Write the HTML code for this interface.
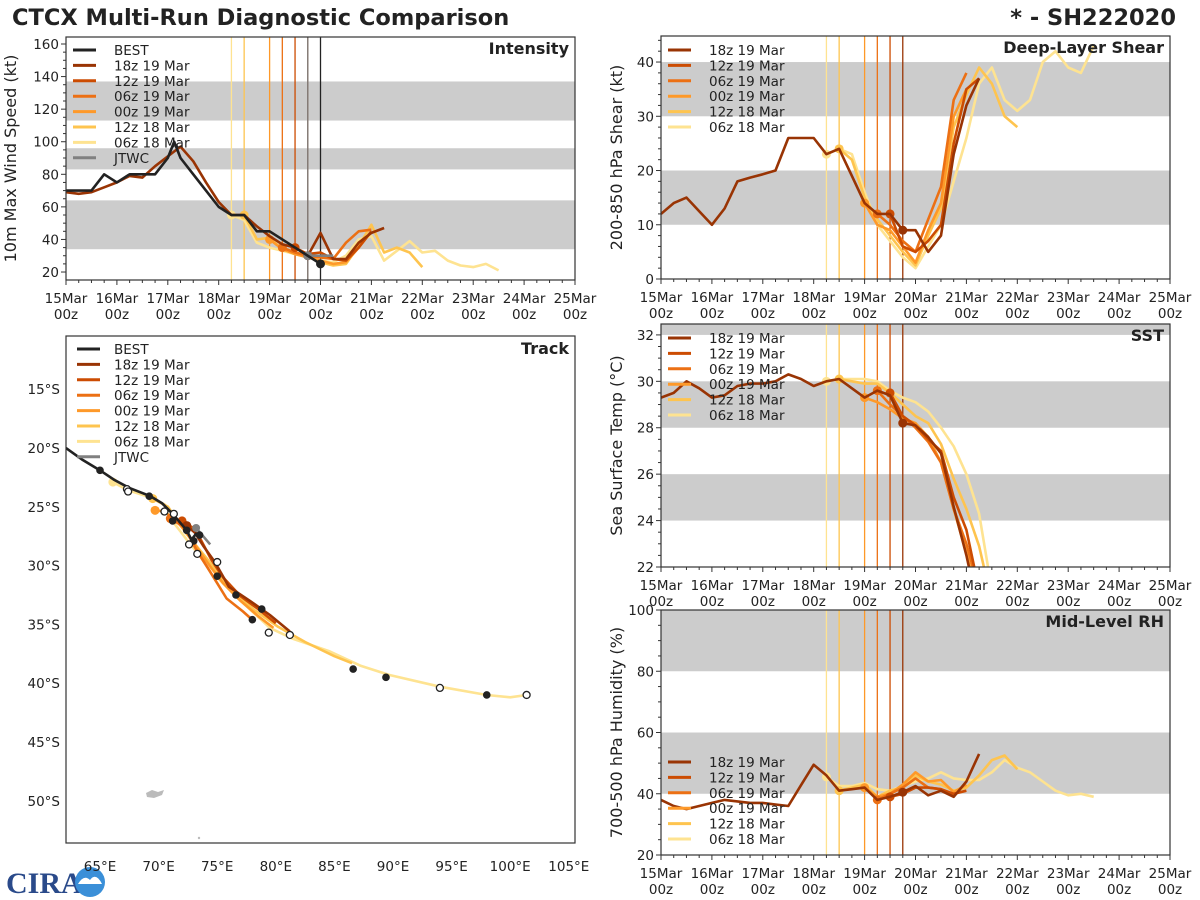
<!DOCTYPE html>
<html><head><meta charset="utf-8"><style>
html,body{margin:0;padding:0;background:#fff;}
svg{display:block;font-family:"DejaVu Sans","Liberation Sans",sans-serif;}
</style></head><body>
<svg id="chart" width="1200" height="900" viewBox="0 0 1200 900" xmlns="http://www.w3.org/2000/svg">
<rect width="1200" height="900" fill="#fff"/>
<text x="12" y="25" font-size="22.5" font-weight="bold" fill="#222">CTCX Multi-Run Diagnostic Comparison</text>
<text x="1176" y="25" font-size="22.5" font-weight="bold" fill="#222" text-anchor="end">* - SH222020</text>
<g>
<text x="6" y="893" font-size="30" font-weight="bold" fill="#2a4a8a" font-family="Liberation Serif, serif">CIRA</text>
<circle cx="90" cy="882" r="15" fill="#3a8fd8"/>
<path d="M78 884 Q84 874 90 880 Q96 872 102 884 Z" fill="#fff"/>
</g>
</svg>
<script>
// ---------- DATA ----------
const runNames = ["18z 19 Mar","12z 19 Mar","06z 19 Mar","00z 19 Mar","12z 18 Mar","06z 18 Mar"];
const runInit = [19.75,19.5,19.25,19.0,18.5,18.25];
const runColors = ["#993404","#cc4c02","#ec7014","#fe9929","#fec44f","#fee391"];
const intStart = [15.0,19.5,19.25,19.0,18.5,18.25];
const int18z19 = [69,68,69,72,75,79,78,85,91,97,88,75,63,55,55,48,42,37,35,30,44,28,28,38,44,47];
const int12z19 = [35,31,32,28,27,35,45];
const int06z19 = [35,32,30,29,28,38,45,46];
const int00z19 = [40,34,31,29,27,25,26,35,45];
const int12z18 = [55,40,41,34,32,30,26,24,25,36,49,32,35,32,23];
const int06z18 = [55,52,38,35,33,31,29,27,26,30,40,42,27,33,39,32,33,27,24,23,25,21];
const bestT = [15.0,15.25,15.5,15.75,16.0,16.25,16.5,16.75,17.0,17.125,17.25,17.5,17.75,18.0,18.25,18.5,18.75,19.0,19.25,19.5,19.75,20.0];
const bestV = [70,70,70,80,75,80,80,80,90,100,90,80,70,60,55,55,45,45,40,35,30,25];
const jtwcT = [19.75,20.0,20.25];
const jtwcV = [30,30,30];

const shrStart = [15.0,19.5,19.25,19.0,18.5,18.25];
const shr18z19 = [12,14,15,12.5,10,13,18,18.7,19.3,20,26,26,26,23,24,19,14,12,12,9,9,5,8,23,32,37];
const shr12z19 = [12,6,5,7,10,25,35,37];
const shr06z19 = [12,10,7,5,11,17,33,38];
const shr00z19 = [14,10,9,6,3,9,14,30,35];
const shr12z18 = [24,22,15,11,8,5,2.5,8,13,28,34,39,36,30,28];
const shr06z18 = [23,24,23,16,10,7,4,2,6,10,18,26,36,39,33,31,33,40,42,39,38,43];

const sstStart = [15.0,19.5,19.25,19.0,18.5,18.25];
const sst18z19 = [29.3,29.5,30.0,29.7,29.3,29.4,29.8,29.9,29.9,30.0,30.3,30.1,29.8,30.0,30.1,29.7,29.3,29.6,29.4,28.2,28.1,27.6,26.9,24.6,22.5,20];
const sst12z19 = [29.5,28.5,28.1,27.5,27.0,25.0,23.6,21];
const sst06z19 = [29.6,29.0,28.5,28.0,27.4,26.5,24.5,23.0,21];
const sst00z19 = [29.3,29.1,28.8,28.4,28.2,27.6,26.5,24.5,22.6,20.5];
const sst12z18 = [30.1,30.0,29.9,29.9,29.5,29.0,28.5,28.2,27.3,25.8,24.5,22.9,20.5];
const sst06z18 = [30.0,30.1,30.1,30.1,30.0,29.6,29.3,29.1,28.7,28.0,27.2,26.0,24.3,21];

const rhStart = [15.0,19.5,19.25,19.0,18.5,18.25];
const rh18z19 = [38,36,35,36,37,38,37.5,37,37,36.5,36,42.8,49.5,46,41,41.5,42,38,39,40.5,42.5,39.5,41,39,44,53];
const rh12z19 = [39,40,42,42,41.5,40,41];
const rh06z19 = [38,40,42,45,42,41.5,39.5];
const rh00z19 = [42,39,40,43,47,44,44.5,40.5,43];
const rh12z18 = [41,42,43,39,41,42,46,44,43,41,42,46,51,52.5,48];
const rh06z18 = [45.5,42.5,42.5,43.5,41.5,41,42.5,44,45,47,45,44.5,44.5,47,51,48.5,47,44,41,39.5,40,39];

const trkBestLon = [62.1,63.5,65.0,66.2,67.5,69.3,70.3,71.2,71.8,72.4,72.8,73.2,73.7];
const trkBestLat = [20.0,21.0,21.9,22.7,23.4,24.1,24.7,25.6,26.3,27.0,27.8,27.3,27.6];
const trk18z19Lon = [72.4,73.1,73.8,74.8,76.0,77.8,79.5,81.2];
const trk18z19Lat = [26.6,27.2,28.3,29.7,31.8,33.0,34.2,35.6];
const trk12z19Lon = [72.0,72.8,73.6,74.5,75.5,77.0,78.5,80.0];
const trk12z19Lat = [26.2,26.7,27.8,29.5,31.0,32.6,33.7,34.9];
const trk06z19Lon = [71.0,72.0,72.6,73.3,74.2,75.0,75.8,77.2,78.2];
const trk06z19Lat = [26.0,26.6,27.5,28.8,30.2,31.5,32.8,33.9,34.8];
const trk00z19Lon = [69.7,70.5,71.5,72.5,73.5,74.5,75.5,77.0,78.5,79.8];
const trk00z19Lat = [25.3,25.4,26.2,27.3,28.8,30.2,31.5,33.0,34.3,35.3];
const trk12z18Lon = [69.5,70.8,71.5,72.3,73.2,74.2,75.3,76.6,78.2,80.2,82.5,85.0,86.5];
const trk12z18Lat = [24.3,25.0,26.0,27.2,28.3,29.5,31.0,32.4,33.8,35.2,36.5,37.7,38.3];
const trk06z18Lon = [66.1,67.4,69.3,70.5,71.0,71.4,72.1,72.7,73.5,74.4,75.2,76.5,78.0,79.5,81.4,84.6,87.2,89.7,94.0,98.0,100.0,101.4];
const trk06z18Lat = [22.9,23.6,24.2,24.8,25.4,26.5,27.4,28.2,29.1,29.9,31.2,32.5,33.9,35.3,36.2,37.3,38.5,39.3,40.3,41.0,41.2,41.0];
const trkJtwcLon = [73.2,74.4];
const trkJtwcLat = [26.8,28.2];
const fixFilledLon = [65.0,69.2,71.2,72.4,73.0,73.5,75.0,76.6,78.0,78.8,86.6,89.4,98.0];
const fixFilledLat = [21.9,24.1,26.2,27.0,27.9,27.4,30.9,32.5,34.6,33.7,38.8,39.5,41.0];
const fixOpenLon = [67.3,67.4,70.5,71.3,72.6,73.3,75.0,79.4,81.2,94.0,101.4];
const fixOpenLat = [23.5,23.7,25.4,25.6,28.2,29.0,29.7,35.7,35.9,40.4,41.0];
const dayTicks = [15,16,17,18,19,20,21,22,23,24,25];
const lonTicks = [65,70,75,80,85,90,95,100,105];
const latTicks = [15,20,25,30,35,40,45,50];

const NS="http://www.w3.org/2000/svg";
const svg=document.getElementById('chart');
function mk(tag,attrs,parent){const e=document.createElementNS(NS,tag);for(const k in attrs)e.setAttribute(k,attrs[k]);(parent||svg).appendChild(e);return e;}
let clipId=0;

function timePanel(p){
  const g=mk('g',{});
  
  
  const xs=t=>p.x0+(t-15)/10*(p.x1-p.x0);
  const ys=v=>p.y1-(v-p.ymin)/(p.ymax-p.ymin)*(p.y1-p.y0);
  const cid='c'+(clipId++);
  const cp=mk('clipPath',{id:cid},g);mk('rect',{x:p.x0,y:p.y0,width:p.x1-p.x0,height:p.y1-p.y0},cp);
  const inner=mk('g',{'clip-path':'url(#'+cid+')'},g);
  p.bands.forEach(b=>{const r=mk('rect',{x:p.x0,y:ys(b[1]),width:p.x1-p.x0,height:ys(b[0])-ys(b[1]),fill:'#cccccc'},inner);
    });
  runInit.forEach((t,i)=>{const l=mk('line',{x1:xs(t),x2:xs(t),y1:p.y0,y2:p.y1,stroke:runColors[i],'stroke-width':1.3},inner);
    });
  if(p.extraV){p.extraV.forEach(v=>{mk('line',{x1:xs(v[0]),x2:xs(v[0]),y1:p.y0,y2:p.y1,stroke:v[1],'stroke-width':1.3},inner);});}
  for(let i=p.series.length-1;i>=0;i--){
    const s=p.series[i],st=p.starts[i];
    const pts=s.map((v,k)=>xs(st+k*0.25).toFixed(1)+','+ys(v).toFixed(1)).join(' ');
    const pl=mk('polyline',{points:pts,fill:'none',stroke:runColors[i],'stroke-width':2.6,'stroke-linejoin':'round'},inner);
    
    
    const k=Math.round((runInit[i]-st)/0.25);
    if(s[k]!==undefined){const c=mk('circle',{cx:xs(runInit[i]),cy:ys(s[k]),r:4.5,fill:runColors[i]},inner);
      }
  }
  if(p.best){
    const j=mk('polyline',{points:jtwcT.map((t,k)=>xs(t)+','+ys(jtwcV[k])).join(' '),fill:'none',stroke:'#808080','stroke-width':2.6},inner);
    
    mk('circle',{cx:xs(jtwcT[0]),cy:ys(jtwcV[0]),r:4.5,fill:'#808080'},inner);
    const b=mk('polyline',{points:bestT.map((t,k)=>xs(t)+','+ys(bestV[k])).join(' '),fill:'none',stroke:'#222','stroke-width':2.6,'stroke-linejoin':'round'},inner);
    
    mk('circle',{cx:xs(bestT[bestT.length-1]),cy:ys(bestV[bestV.length-1]),r:4.5,fill:'#222'},inner);
  }
  mk('rect',{x:p.x0,y:p.y0,width:p.x1-p.x0,height:p.y1-p.y0,fill:'none',stroke:'#333','stroke-width':1.2},g);
  for(let v=Math.ceil(p.ymin/p.minor)*p.minor;v<=p.ymax+1e-6;v+=p.minor){
    const maj=Math.abs(v/p.major-Math.round(v/p.major))<1e-6;
    mk('line',{x1:p.x0,x2:p.x0-(maj?5:3),y1:ys(v),y2:ys(v),stroke:'#333','stroke-width':1},g);
    if(maj){const t=mk('text',{x:p.x0-7,y:ys(v)+5,'font-size':13.5,'text-anchor':'end',fill:'#222'},g);t.textContent=v;
      }
  }
  for(let d=15;d<=25.001;d+=0.25){
    const maj=Math.abs(d-Math.round(d))<1e-6;
    mk('line',{x1:xs(d),x2:xs(d),y1:p.y1,y2:p.y1+(maj?5:3),stroke:'#333','stroke-width':1},g);
  }
  dayTicks.forEach(d=>{
    const t=mk('text',{x:xs(d),y:p.y1+23,'font-size':13.5,'text-anchor':'middle',fill:'#222'},g);t.textContent=d+'Mar';
    
    const t2=mk('text',{x:xs(d),y:p.y1+39,'font-size':13.5,'text-anchor':'middle',fill:'#222'},g);t2.textContent='00z';
  });
  const yl=mk('text',{x:0,y:0,'font-size':16,'text-anchor':'middle',fill:'#222',transform:'translate('+p.ylx+','+((p.y0+p.y1)/2)+') rotate(-90)'},g);
  yl.textContent=p.ylabel;
  const tt=mk('text',{x:p.x1-6,y:p.y0+17,'font-size':16,'font-weight':'bold','text-anchor':'end',fill:'#222'},g);
  tt.textContent=p.title;
  const ents=[];if(p.best)ents.push(['BEST','#222']);runNames.forEach((n,i)=>ents.push([n,runColors[i]]));if(p.best)ents.push(['JTWC','#808080']);
  ents.forEach((e,i)=>{const yy=p.legY+i*15.4;
    const lg=mk('g',{},g);
    mk('line',{x1:p.x0+7,x2:p.x0+30,y1:yy,y2:yy,stroke:e[1],'stroke-width':3},lg);
    const t=mk('text',{x:p.x0+48,y:yy+5,'font-size':13.5,fill:'#222'},lg);t.textContent=e[0];});
}

timePanel({name:'intensity-panel',x0:66,x1:575,y0:37,y1:280,ymin:15.1,ymax:164.3,major:20,minor:5,
  bands:[[34,64],[83,96],[113,137]],series:[int18z19,int12z19,int06z19,int00z19,int12z18,int06z18],starts:intStart,
  best:true,extraV:[[19.75,'#808080'],[20.0,'#222']],ylabel:'10m Max Wind Speed (kt)',ylx:16,title:'Intensity',legY:50});
timePanel({name:'shear-panel',x0:661,x1:1170,y0:36,y1:279,ymin:0,ymax:44.8,major:10,minor:2,
  bands:[[10,20],[30,40]],series:[shr18z19,shr12z19,shr06z19,shr00z19,shr12z18,shr06z18],starts:shrStart,
  ylabel:'200-850 hPa Shear (kt)',ylx:622,title:'Deep-Layer Shear',legY:50});
timePanel({name:'sst-panel',x0:661,x1:1170,y0:324,y1:567,ymin:22,ymax:32.47,major:2,minor:0.5,
  bands:[[24,26],[28,30],[32,33]],series:[sst18z19,sst12z19,sst06z19,sst00z19,sst12z18,sst06z18],starts:sstStart,
  ylabel:'Sea Surface Temp (°C)',ylx:622,title:'SST',legY:338});
timePanel({name:'rh-panel',x0:661,x1:1170,y0:610,y1:855,ymin:20,ymax:100,major:20,minor:5,
  bands:[[40,60],[80,100]],series:[rh18z19,rh12z19,rh06z19,rh00z19,rh12z18,rh06z18],starts:rhStart,
  ylabel:'700-500 hPa Humidity (%)',ylx:622,title:'Mid-Level RH',legY:762});

(function(){
  const x0=66,x1=575,y0=336,y1=843;
  const lx=lon=>100+(lon-65)*11.72;
  const ly=lat=>448+(lat-20)*11.76;
  const g=mk('g',{});
  const cp=mk('clipPath',{id:'trkclip'},g);mk('rect',{x:x0,y:y0,width:x1-x0,height:y1-y0},cp);
  const inner=mk('g',{'clip-path':'url(#trkclip)'},g);
  mk('path',{d:'M146 793 l6 -3 l6 2 l6 -2 l-2 5 l-8 3 l-7 -1 z',fill:'#bbb'},inner);
  mk('circle',{cx:199,cy:838,r:1.2,fill:'#bbb'},inner);
  const lons=[trk18z19Lon,trk12z19Lon,trk06z19Lon,trk00z19Lon,trk12z18Lon,trk06z18Lon];
  const lats=[trk18z19Lat,trk12z19Lat,trk06z19Lat,trk00z19Lat,trk12z18Lat,trk06z18Lat];
  for(let i=5;i>=0;i--){
    const pl=mk('polyline',{points:lons[i].map((v,k)=>lx(v).toFixed(1)+','+ly(lats[i][k]).toFixed(1)).join(' '),fill:'none',stroke:runColors[i],'stroke-width':2.6,'stroke-linejoin':'round'},inner);
    
    mk('circle',{cx:lx(lons[i][0]),cy:ly(lats[i][0]),r:4.5,fill:runColors[i]},inner);
  }
  const b=mk('polyline',{points:trkBestLon.map((v,k)=>lx(v)+','+ly(trkBestLat[k])).join(' '),fill:'none',stroke:'#222','stroke-width':2.6},inner);
  
  const j=mk('polyline',{points:trkJtwcLon.map((v,k)=>lx(v)+','+ly(trkJtwcLat[k])).join(' '),fill:'none',stroke:'#808080','stroke-width':2.6},inner);
  
  mk('circle',{cx:lx(trkJtwcLon[0]),cy:ly(trkJtwcLat[0]),r:4,fill:'#808080'},inner);
  fixFilledLon.forEach((v,k)=>{const c=mk('circle',{cx:lx(v),cy:ly(fixFilledLat[k]),r:3.8,fill:'#222'},inner);
    });
  fixOpenLon.forEach((v,k)=>{const c=mk('circle',{cx:lx(v),cy:ly(fixOpenLat[k]),r:3.5,fill:'#fff',stroke:'#222','stroke-width':1.3},inner);
    });
  mk('rect',{x:x0,y:y0,width:x1-x0,height:y1-y0,fill:'none',stroke:'#333','stroke-width':1.2},g);
  latTicks.forEach(l=>{const t=mk('text',{x:60,y:ly(l)+5,'font-size':13.5,'text-anchor':'end',fill:'#222'},g);t.textContent=l+'°S';
    });
  lonTicks.forEach(l=>{const t=mk('text',{x:lx(l),y:871,'font-size':13.5,'text-anchor':'middle',fill:'#222'},g);t.textContent=l+'°E';
    });
  const tt=mk('text',{x:x1-6,y:y0+18,'font-size':16,'font-weight':'bold','text-anchor':'end',fill:'#222'},g);tt.textContent='Track';
  
  const ents=[['BEST','#222']];runNames.forEach((n,i)=>ents.push([n,runColors[i]]));ents.push(['JTWC','#808080']);
  ents.forEach((e,i)=>{const yy=349+i*15.4;
    const lg=mk('g',{},g);
    mk('line',{x1:77,x2:100,y1:yy,y2:yy,stroke:e[1],'stroke-width':3},lg);
    const t=mk('text',{x:114,y:yy+5,'font-size':13.5,fill:'#222'},lg);t.textContent=e[0];});
})();
</script>
</body></html>
